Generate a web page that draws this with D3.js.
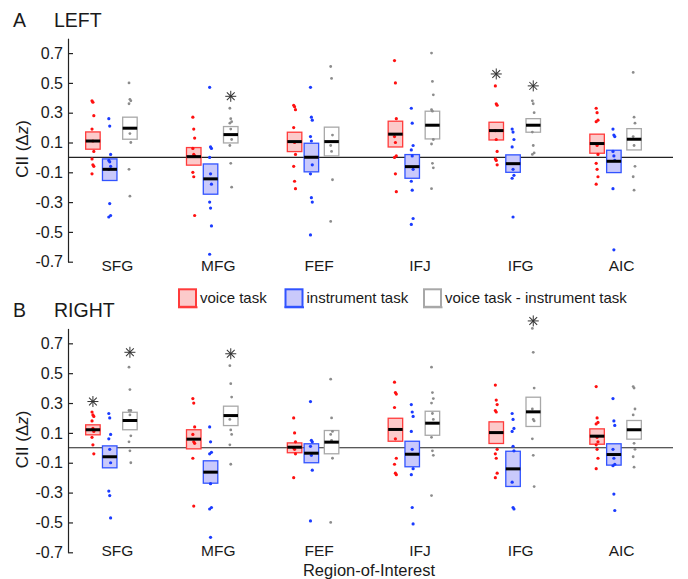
<!DOCTYPE html>
<html>
<head>
<meta charset="utf-8">
<script src="https://cdn.jsdelivr.net/npm/d3@7"></script>
<style>
  body { margin: 0; background: #fff; }
  text { font-family: "Liberation Sans", Arial, Helvetica, sans-serif; fill: #1a1a1a; }
</style>
</head>
<body>
<div class="chart-div"></div>
<script>
//--------------------------- Data

var rois = ["SFG", "MFG", "FEF", "IFJ", "IFG", "AIC"];
var conditions = ["voice task", "instrument task", "voice task - instrument task"];
var yTicks = [-0.7, -0.5, -0.3, -0.1, 0.1, 0.3, 0.5, 0.7];

// boxes: [low, median, high] per ROI
var leftVoiceBox = [[0.055, 0.11, 0.171], [-0.052, 0.005, 0.066], [0.039, 0.106, 0.169], [0.07, 0.156, 0.243], [0.117, 0.18, 0.236], [0.028, 0.093, 0.156]];
var leftInstrBox = [[-0.155, -0.08, -0.01], [-0.247, -0.144, -0.044], [-0.097, 0.001, 0.095], [-0.14, -0.062, 0.019], [-0.10, -0.042, 0.017], [-0.102, -0.026, 0.048]];
var leftDiffBox = [[0.122, 0.196, 0.27], [0.097, 0.153, 0.207], [0.01, 0.106, 0.203], [0.124, 0.216, 0.31], [0.169, 0.216, 0.26], [0.05, 0.122, 0.193]];

var leftVoiceDots = [
  [0.38, 0.37, 0.28, 0.19, 0.11, 0.04, -0.01, -0.05, -0.06, -0.11],
  [0.27, 0.19, 0.13, 0.06, 0.02, 0.01, -0.10, -0.13, -0.39],
  [0.35, 0.34, 0.32, 0.20, 0.10, 0.02, -0.06, -0.16, -0.21],
  [0.65, 0.50, 0.26, 0.14, 0.10, 0.01, 0.00, -0.11, -0.23],
  [0.48, 0.36, 0.35, 0.18, 0.12, 0.04, -0.01, -0.02, -0.05],
  [0.33, 0.30, 0.25, 0.24, 0.08, 0.02, -0.04, -0.08, -0.13, -0.18]];
var leftInstrDots = [
  [0.26, 0.21, 0.02, -0.02, -0.03, -0.06, -0.08, -0.31, -0.39, -0.40],
  [0.47, 0.07, 0.06, 0.00, -0.11, -0.18, -0.30, -0.34, -0.46, -0.65],
  [0.47, 0.27, 0.25, 0.14, 0.11, -0.05, -0.11, -0.27, -0.30, -0.52],
  [0.33, 0.23, 0.08, 0.05, 0.01, -0.08, -0.16, -0.22, -0.41, -0.45],
  [0.19, 0.17, 0.12, 0.07, -0.08, -0.12, -0.14, -0.40],
  [0.19, 0.15, 0.14, 0.04, 0.01, -0.02, -0.21, -0.62]];
var leftDiffDots = [
  [0.50, 0.39, 0.38, 0.36, 0.16, 0.10, -0.08, -0.26],
  [0.33, 0.26, 0.24, 0.23, 0.19, 0.12, 0.08, -0.04, -0.20],
  [0.61, 0.53, 0.15, 0.08, 0.04, -0.15, -0.43],
  [0.70, 0.51, 0.42, 0.32, 0.31, 0.12, 0.09, -0.04, -0.07, -0.21],
  [0.38, 0.36, 0.30, 0.17, 0.08, 0.03, 0.02],
  [0.57, 0.27, 0.23, 0.14, 0.08, -0.06, -0.13, -0.22]];

var rightVoiceBox = [[0.087, 0.121, 0.154], [-0.007, 0.058, 0.121], [-0.033, 0.004, 0.033], [0.044, 0.123, 0.198], [0.029, 0.102, 0.174], [0.024, 0.078, 0.127]];
var rightInstrBox = [[-0.134, -0.06, 0.013], [-0.237, -0.163, -0.087], [-0.10, -0.036, 0.027], [-0.127, -0.043, 0.044], [-0.259, -0.141, -0.023], [-0.116, -0.045, 0.027]];
var rightDiffBox = [[0.121, 0.183, 0.238], [0.149, 0.216, 0.279], [-0.04, 0.038, 0.116], [0.084, 0.165, 0.245], [0.143, 0.241, 0.339], [0.058, 0.121, 0.183]];

var rightVoiceDots = [
  [0.24, 0.22, 0.21, 0.18, 0.13, 0.11, 0.07, 0.02, -0.04],
  [0.33, 0.30, 0.14, 0.09, 0.04, 0.03, -0.07, -0.39],
  [0.20, 0.10, 0.04, 0.00, -0.01, -0.04, -0.20],
  [0.44, 0.37, 0.36, 0.27, 0.06, -0.07, -0.11, -0.17, -0.18],
  [0.42, 0.32, 0.29, 0.25, 0.24, -0.01, -0.04, -0.07, -0.17, -0.20],
  [0.41, 0.20, 0.17, 0.16, 0.07, 0.04, 0.02, -0.01, -0.07, -0.14]];
var rightInstrDots = [
  [0.23, 0.20, 0.09, 0.06, -0.01, -0.10, -0.29, -0.32, -0.47],
  [0.14, 0.04, -0.03, -0.04, -0.24, -0.40, -0.41, -0.60],
  [0.31, 0.05, 0.04, 0.01, -0.05, -0.15, -0.49],
  [0.29, 0.24, 0.21, 0.11, -0.01, -0.14, -0.18, -0.40, -0.51],
  [0.23, 0.19, 0.13, 0.11, 0.01, -0.02, -0.23, -0.40, -0.41],
  [0.33, 0.18, 0.15, -0.01, -0.07, -0.11, -0.12, -0.31, -0.42]];
var rightDiffDots = [
  [0.54, 0.39, 0.25, 0.25, 0.22, 0.08, 0.04, -0.02, -0.10],
  [0.55, 0.43, 0.34, 0.19, 0.12, 0.09, 0.02, -0.11],
  [0.46, 0.20, 0.11, 0.09, 0.05, -0.07, -0.50],
  [0.54, 0.37, 0.33, 0.30, 0.23, 0.19, 0.07, -0.02, -0.05, -0.32],
  [0.80, 0.64, 0.40, 0.26, 0.19, 0.18, 0.06, -0.05, -0.26],
  [0.41, 0.40, 0.26, 0.22, 0.03, -0.01, -0.06, -0.13]];

// significance stars: ROI, condition index, value where the star sits
var leftStarRoi = ["MFG", "IFG", "IFG"];
var leftStarCond = [2, 0, 2];
var leftStarValue = [0.41, 0.56, 0.48];
var rightStarRoi = ["SFG", "SFG", "MFG", "IFG"];
var rightStarCond = [0, 2, 2, 2];
var rightStarValue = [0.31, 0.64, 0.63, 0.85];

//--------------------------- Styles / layout

var width = 688;
var height = 579;
var fontFam = "Liberation Sans, Arial, Helvetica, sans-serif";
var condFill = ["#fccaca", "#c9c9fb", "#ffffff"];
var condStroke = ["#ff3b3b", "#3153ff", "#a8a8a8"];
var dotColor = ["#ff1010", "#1a3bff", "#8c8c8c"];
var condOffset = [-25.5, -8.7, 11.5];
var boxW = 14.5;

var svg = d3.select("div.chart-div")
    .append("svg")
    .attr("width", width)
    .attr("height", height);

var x = d3.scaleBand().domain(rois).range([68, 673]).padding(0);

var panels = [
  { letter: "A", name: "LEFT", top: 38.2, bottom: 261.7, titleY: 27, labelY: 271,
    boxes: [leftVoiceBox, leftInstrBox, leftDiffBox], dots: [leftVoiceDots, leftInstrDots, leftDiffDots],
    starRoi: leftStarRoi, starCond: leftStarCond, starValue: leftStarValue },
  { letter: "B", name: "RIGHT", top: 328.4, bottom: 552.3, titleY: 317, labelY: 556,
    boxes: [rightVoiceBox, rightInstrBox, rightDiffBox], dots: [rightVoiceDots, rightInstrDots, rightDiffDots],
    starRoi: rightStarRoi, starCond: rightStarCond, starValue: rightStarValue }
];

//--------------------------- Panels

panels.forEach(function (p) {
    var y = d3.scaleLinear().domain([-0.7, 0.8]).range([p.bottom, p.top]);
    var g = svg.append("g");

    // panel title
    g.append("text").attr("x", 13).attr("y", p.titleY).text(p.letter)
        .attr("font-size", 19.5);
    g.append("text").attr("x", 54).attr("y", p.titleY).text(p.name)
        .attr("font-size", 19.5);

    // y axis
    var ax = g.append("g").attr("transform", "translate(68,0)")
        .call(d3.axisLeft(y).tickValues(yTicks).tickSize(-5).tickSizeOuter(0).tickPadding(5)
            .tickFormat(function (d) { return d.toFixed(1); }));
    ax.select(".domain").attr("stroke", "#222").attr("stroke-width", 1.2);
    ax.selectAll(".tick line").attr("stroke", "#222").attr("stroke-width", 1.2);
    ax.selectAll(".tick text").attr("font-family", fontFam).attr("font-size", 16).style("fill", "#1a1a1a");

    var yt = g.append("text")
        .attr("transform", "translate(28," + ((p.top + p.bottom) / 2 - 1) + ") rotate(-90)")
        .attr("text-anchor", "middle")
        .attr("font-size", 17);
    yt.append("tspan").text("CII (\u0394");
    yt.append("tspan").attr("font-style", "italic").text("z");
    yt.append("tspan").text(")");

    // zero line
    g.append("line")
        .attr("x1", 68).attr("x2", 673)
        .attr("y1", y(0)).attr("y2", y(0))
        .attr("stroke", "#222").attr("stroke-width", 1.1);

    // category labels
    g.selectAll("text.cat").data(rois).enter()
        .append("text")
        .attr("class", "cat")
        .attr("x", function (d) { return x(d) + x.bandwidth() / 2 - 1; })
        .attr("y", p.labelY)
        .attr("text-anchor", "middle")
        .attr("font-size", 15.5)
        .text(function (d) { return d; });

    // boxes, medians, dots
    for (var c = 0; c < 3; c++) {
        var boxes = p.boxes[c];
        var dots = p.dots[c];
        for (var r = 0; r < rois.length; r++) {
            var cx = x(rois[r]) + x.bandwidth() / 2 + condOffset[c];
            var b = boxes[r];

            g.append("rect")
                .attr("x", cx - boxW / 2)
                .attr("y", y(b[2]))
                .attr("width", boxW)
                .attr("height", y(b[0]) - y(b[2]))
                .attr("fill", condFill[c])
                .attr("stroke", condStroke[c])
                .attr("stroke-width", 1.3);

            g.selectAll(null).data(dots[r]).enter()
                .append("circle")
                .attr("cx", function (d, i) { return cx + ((i % 3) - 1) * 0.9; })
                .attr("cy", function (d) { return y(d); })
                .attr("r", c == 2 ? 1.4 : 1.6)
                .attr("fill", dotColor[c]);

            g.append("line")
                .attr("x1", cx - boxW / 2).attr("x2", cx + boxW / 2)
                .attr("y1", y(b[1])).attr("y2", y(b[1]))
                .attr("stroke", "#000").attr("stroke-width", 3);
        }
    }

    // stars
    for (var s = 0; s < p.starRoi.length; s++) {
        var sx = x(p.starRoi[s]) + x.bandwidth() / 2 + condOffset[p.starCond[s]];
        var sy = y(p.starValue[s]);
        var star = g.append("g").attr("transform", "translate(" + sx + "," + sy + ")");
        [0, 45, 90, 135].forEach(function (a) {
            star.append("line")
                .attr("x1", -5.5).attr("x2", 5.5).attr("y1", 0).attr("y2", 0)
                .attr("transform", "rotate(" + a + ")")
                .attr("stroke", "#333").attr("stroke-width", 1);
        });
    }
});

//--------------------------- Legend

var legendX = [178, 284.5, 423];
var legend = svg.append("g");
for (var k = 0; k < conditions.length; k++) {
    legend.append("rect")
        .attr("x", legendX[k] + 1).attr("y", 289.3)
        .attr("width", 17).attr("height", 17.5)
        .attr("fill", condFill[k])
        .attr("stroke", condStroke[k])
        .attr("stroke-width", 2);
    legend.append("line")
        .attr("x1", legendX[k]).attr("x2", legendX[k] + 19.5)
        .attr("y1", 307.3).attr("y2", 307.3)
        .attr("stroke", condStroke[k]).attr("stroke-width", 2);
    legend.append("text")
        .attr("x", legendX[k] + 22).attr("y", 303)
        .attr("font-size", 15)
        .text(conditions[k]);
}

svg.append("text")
    .attr("x", 369).attr("y", 576)
    .attr("text-anchor", "middle")
    .attr("font-size", 16.5)
    .text("Region-of-Interest");
</script>
</body>
</html>
